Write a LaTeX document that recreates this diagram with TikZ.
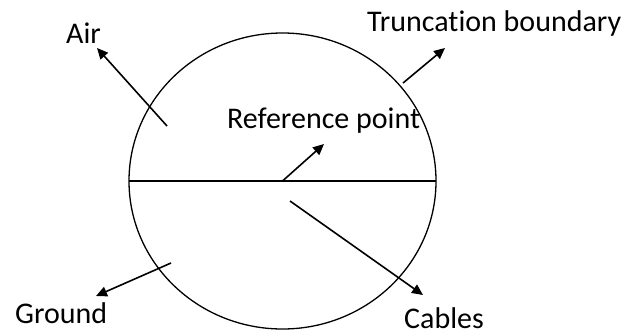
\documentclass[tikz,border=0pt]{standalone}
\usepackage{fontspec}
\setmainfont[Ligatures={NoCommon}]{Carlito}
\usetikzlibrary{arrows.meta}
\begin{document}
\begin{tikzpicture}[x=1pt,y=-1pt,
  lbl/.style={inner sep=0pt,anchor=base west,font=\fontsize{30}{34}\selectfont},
  arr/.style={line width=1.6pt,-{Triangle[length=11pt,width=10pt]}},
  bound/.style={line width=1.3pt}]
\useasboundingbox (0,0) rectangle (628,335);
\coordinate (ctr) at (282.5,181);
\draw[bound] (ctr) ellipse [x radius=153.5, y radius=148];
\coordinate (hl) at (129,181);
\coordinate (hr) at (436,181);
\draw[bound] (hl) -- (hr);
% labels
\node[lbl] (air) at (66,43) {Air};
\node[lbl] (trunc) at (367,31) {Truncation boundary};
\node[lbl] (ref) at (227,128) {Reference point};
\node[lbl] (ground) at (15,323) {Ground};
\node[lbl] (cables) at (404,328) {Cables};
% arrow ends
\coordinate (airS) at (167,126);
\coordinate (airT) at (97,48);
\coordinate (trS) at (403,83);
\coordinate (trT) at (445,48);
\coordinate (refT) at (324,144);
\coordinate (caS) at (290,201);
\coordinate (caT) at (423,295);
\coordinate (grS) at (171,263);
\coordinate (grT) at (96,296);
\draw[arr] (airS) -- (airT);
\draw[arr] (trS) -- (trT);
\draw[arr] (ctr) -- (refT);
\draw[arr] (caS) -- (caT);
\draw[arr] (grS) -- (grT);
\end{tikzpicture}
\end{document}
